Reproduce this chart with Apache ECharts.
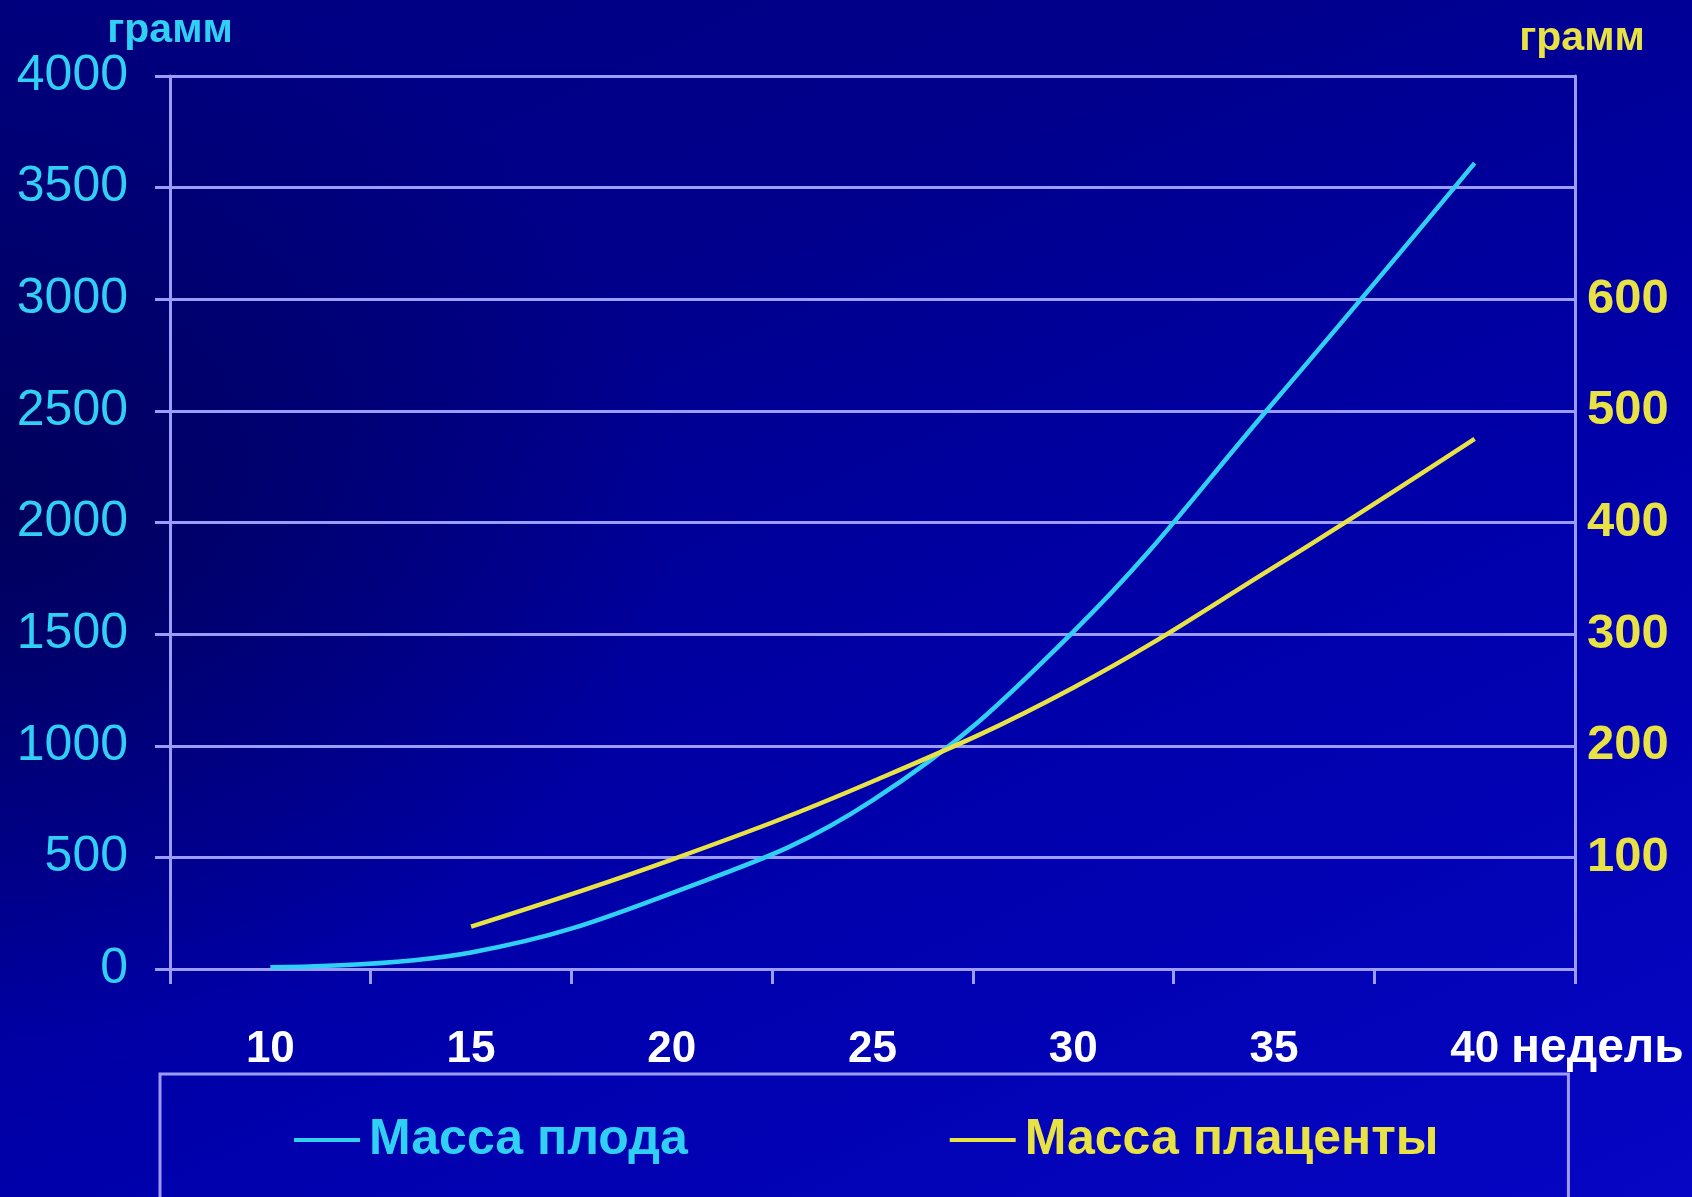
<!DOCTYPE html>
<html>
<head>
<meta charset="utf-8">
<title>Масса плода и плаценты</title>
<script src="https://cdn.jsdelivr.net/npm/echarts@6/dist/echarts.min.js"></script>
<style>
  html, body {
    margin: 0;
    padding: 0;
    width: 1692px;
    height: 1197px;
    overflow: hidden;
  }
  body {
    background:
      radial-gradient(ellipse 40% 45% at 0% 42%, rgba(0, 0, 60, 0.6), rgba(0, 0, 60, 0) 100%),
      linear-gradient(155deg, #000080 0%, #00008c 30%, #0000aa 60%, #0606c4 100%);
  }
  #chart {
    width: 1692px;
    height: 1197px;
  }
</style>
</head>
<body>
<div id="chart"></div>
<script>
  // недели беременности
  var weeks = ['10', '15', '20', '25', '30', '35', '40'];
  // масса плода, г (левая ось)
  var fetusMass = [8, 74, 340, 755, 1510, 2540, 3610];
  // масса плаценты, г (правая ось)
  var placentaMass = ['-', 38, 98, 168, 252, 360, 475];
  // подписи правой оси, которые видны на картинке
  var rightLabels = [100, 200, 300, 400, 500, 600];

  var gridColor = '#9c9cff';
  var cyan = '#30d0f4';
  var yellow = '#e8e244';
  var font = 'Liberation Sans, Arial, sans-serif';

  var chart = echarts.init(document.getElementById('chart'));
  chart.setOption({
    backgroundColor: 'transparent',
    textStyle: { fontFamily: font },
    grid: {
      left: 170,
      right: 117,
      top: 76,
      bottom: 228,
      outerBoundsMode: 'none'
    },
    legend: {
      left: 160,
      top: 1074,
      padding: [41, 130, 80, 134],
      itemGap: 262,
      icon: 'rect',
      itemWidth: 66,
      itemHeight: 4,
      borderColor: gridColor,
      borderWidth: 3,
      textStyle: { fontSize: 50, fontWeight: 'bold', fontFamily: font, padding: [0, 0, 0, 4] },
      data: [
        { name: 'Масса плода', textStyle: { color: cyan } },
        { name: 'Масса плаценты', textStyle: { color: yellow } }
      ]
    },
    xAxis: {
      type: 'category',
      data: weeks,
      boundaryGap: true,
      name: 'недель',
      nameLocation: 'end',
      nameGap: -64,
      nameTextStyle: {
        color: '#ffffff',
        fontSize: 48,
        fontWeight: 'bold',
        verticalAlign: 'top',
        padding: [56, 0, 0, 0]
      },
      axisLine: { lineStyle: { color: gridColor, width: 3 } },
      axisTick: { show: true, length: 15, lineStyle: { color: gridColor, width: 3 } },
      axisLabel: {
        color: '#ffffff',
        fontSize: 44,
        fontWeight: 'bold',
        margin: 59
      },
      splitLine: { show: false }
    },
    yAxis: [{
      type: 'value',
      position: 'left',
      min: 0,
      max: 4000,
      interval: 500,
      name: 'грамм',
      nameLocation: 'end',
      nameGap: 15,
      nameTextStyle: { color: cyan, fontSize: 41, fontWeight: 'bold', align: 'center' },
      axisLine: { show: true, lineStyle: { color: gridColor, width: 3 } },
      axisTick: { show: true, length: 15, lineStyle: { color: gridColor, width: 3 } },
      axisLabel: {
        color: cyan,
        fontSize: 50,
        margin: 42,
        formatter: function (v) { return String(v); }
      },
      splitLine: { show: true, lineStyle: { color: gridColor, width: 3 } }
    }, {
      type: 'value',
      position: 'right',
      min: 0,
      max: 800,
      interval: 100,
      name: 'грамм',
      nameLocation: 'end',
      nameGap: 17,
      nameTextStyle: { color: yellow, fontSize: 41, fontWeight: 'bold', align: 'center', padding: [0, 0, 0, 14] },
      axisLine: { show: true, lineStyle: { color: gridColor, width: 3 } },
      axisTick: { show: false },
      axisLabel: {
        color: yellow,
        fontSize: 49,
        fontWeight: 'bold',
        margin: 12,
        formatter: function (v) {
          return rightLabels.indexOf(v) >= 0 ? String(v) : '';
        }
      },
      splitLine: { show: false }
    }],
    series: [{
      name: 'Масса плода',
      type: 'line',
      yAxisIndex: 0,
      data: fetusMass,
      smooth: 0.4,
      symbol: 'none',
      lineStyle: { color: cyan, width: 4.5 },
      itemStyle: { color: cyan }
    }, {
      name: 'Масса плаценты',
      type: 'line',
      yAxisIndex: 1,
      data: placentaMass,
      smooth: 0.4,
      symbol: 'none',
      lineStyle: { color: yellow, width: 4.5 },
      itemStyle: { color: yellow }
    }]
  });
</script>
</body>
</html>
